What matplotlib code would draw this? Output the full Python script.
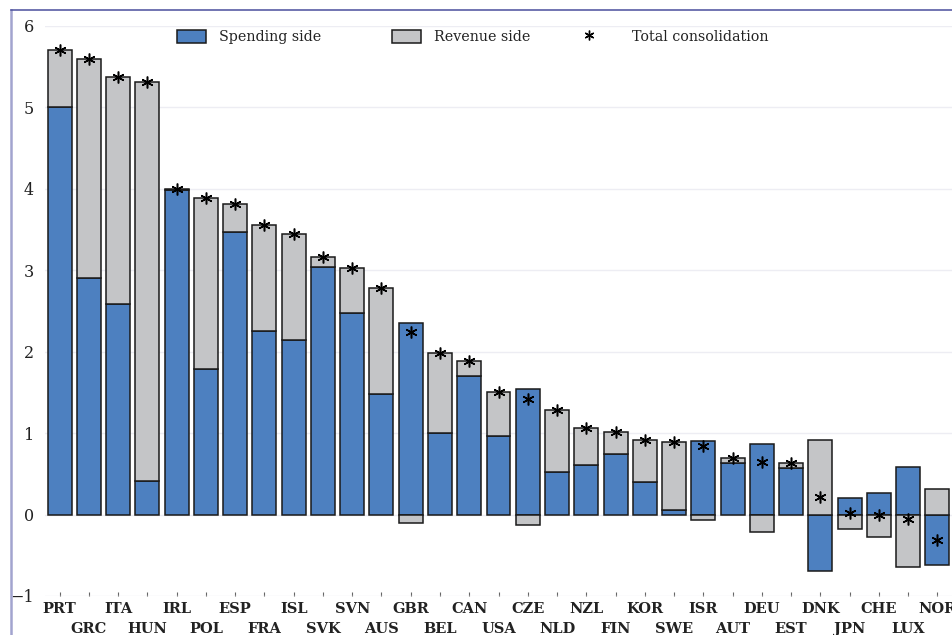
import numpy as np
import matplotlib
matplotlib.use("Agg")
import matplotlib.pyplot as plt
from matplotlib.patches import Patch
from matplotlib.lines import Line2D

plt.rcParams["font.family"] = ["DejaVu Serif"]

countries = ["PRT", "GRC", "ITA", "HUN", "IRL", "POL", "ESP", "FRA", "ISL", "SVK",
             "SVN", "AUS", "GBR", "BEL", "CAN", "USA", "CZE", "NLD", "NZL", "FIN",
             "KOR", "SWE", "ISR", "AUT", "DEU", "EST", "DNK", "JPN", "CHE", "LUX", "NOR"]

spending = [5.00, 2.90, 2.59, 0.41, 3.98, 1.79, 3.47, 2.25, 2.14, 3.04,
            2.47, 1.48, 2.35, 1.00, 1.70, 0.965, 1.54, 0.52, 0.61, 0.75,
            0.40, 0.06, 0.90, 0.63, 0.87, 0.57, -0.69, 0.20, 0.27, 0.58, -0.62]

revenue = [0.70, 2.69, 2.78, 4.90, 0.02, 2.10, 0.35, 1.31, 1.30, 0.12,
           0.56, 1.30, -0.10, 0.98, 0.19, 0.535, -0.13, 0.76, 0.45, 0.26,
           0.51, 0.83, -0.07, 0.06, -0.22, 0.06, 0.91, -0.18, -0.28, -0.64, 0.315]

total = [5.70, 5.59, 5.37, 5.31, 4.00, 3.89, 3.82, 3.56, 3.44, 3.16,
         3.03, 2.78, 2.24, 1.98, 1.89, 1.50, 1.42, 1.28, 1.06, 1.01,
         0.91, 0.89, 0.84, 0.69, 0.65, 0.63, 0.22, 0.02, -0.01, -0.06, -0.31]

y_ticks = [-1, 0, 1, 2, 3, 4, 5, 6]

BLUE = "#4d80c0"
GREY = "#c4c5c7"
EDGE = "#1a1a1a"

W, H = 952, 635
fig = plt.figure(figsize=(W / 100, H / 100), dpi=100)
ax = fig.add_axes([45 / W, 1 - 596 / H, 1 - 45 / W, (596 - 26) / H])

x = np.arange(len(countries))
sp = np.array(spending)
rv = np.array(revenue)
# revenue stacks on spending when both share a sign, otherwise starts at zero
rv_bottom = np.where(np.sign(sp) == np.sign(rv), sp, 0.0)

bw = 0.82
ax.bar(x, sp, width=bw, color=BLUE, edgecolor=EDGE, linewidth=1.1, zorder=3)
ax.bar(x, rv, width=bw, bottom=rv_bottom, color=GREY, edgecolor=EDGE,
       linewidth=1.1, zorder=3)
ax.plot(x, total, linestyle="none", marker=(6, 2, 0), markersize=8.5,
        markeredgewidth=1.1, color="black", zorder=4)

ax.set_xlim(-0.5, len(countries) - 0.5)
ax.set_ylim(-1, 6)
ax.set_yticks(y_ticks)
ax.set_yticklabels([str(v).replace("-", "\u2212") for v in y_ticks], fontsize=11.5)
ax.yaxis.grid(True, color="#ededf3", linewidth=1.0, zorder=0)
ax.set_axisbelow(True)
for s in ax.spines.values():
    s.set_visible(False)

# country labels alternate between two rows: major ticks on even bars, minor on odd
ax.set_xticks(x[::2])
ax.set_xticklabels(countries[::2])
ax.set_xticks(x[1::2], minor=True)
ax.set_xticklabels(countries[1::2], minor=True)
for t in ax.get_xticklabels(which="both"):
    t.set_fontsize(10.5)
    t.set_fontweight("bold")
    t.set_color("#222222")
ax.tick_params(axis="x", which="major", direction="in", length=3, width=0.8,
               color="#666666", pad=4.5)
ax.tick_params(axis="x", which="minor", direction="in", length=3, width=0.8,
               color="#666666", pad=18.5)
ax.tick_params(axis="y", length=0, pad=8, labelcolor="#222222")

# legend entries placed individually along the top
leg_y = 1 - 37 / H
entries = [
    (Patch(facecolor=BLUE, edgecolor=EDGE, linewidth=1.1), "Spending side", 177, 0.95),
    (Patch(facecolor=GREY, edgecolor=EDGE, linewidth=1.1), "Revenue side", 392, 0.95),
    (Line2D([], [], linestyle="none", marker=(6, 2, 0), markersize=7,
            markeredgewidth=1.0, color="black"), "Total consolidation", 575, 1.95),
]
for handle, label, px, pad in entries:
    fig.legend(handles=[handle], labels=[label], loc="center left",
               bbox_to_anchor=(px / W, leg_y), frameon=False, fontsize=10.3,
               handlelength=2.0, handleheight=1.0, handletextpad=pad,
               borderpad=0, borderaxespad=0, labelcolor="#222222")

# outer frame lines
fig.add_artist(Line2D([11 / W, 11 / W], [0, 1 - 10 / H], transform=fig.transFigure,
                      color="#a2a4cf", linewidth=1.8))
fig.add_artist(Line2D([11 / W, 1], [1 - 10 / H, 1 - 10 / H], transform=fig.transFigure,
                      color="#4a4e9c", linewidth=1.1))

fig.savefig("out.png", dpi=100)
